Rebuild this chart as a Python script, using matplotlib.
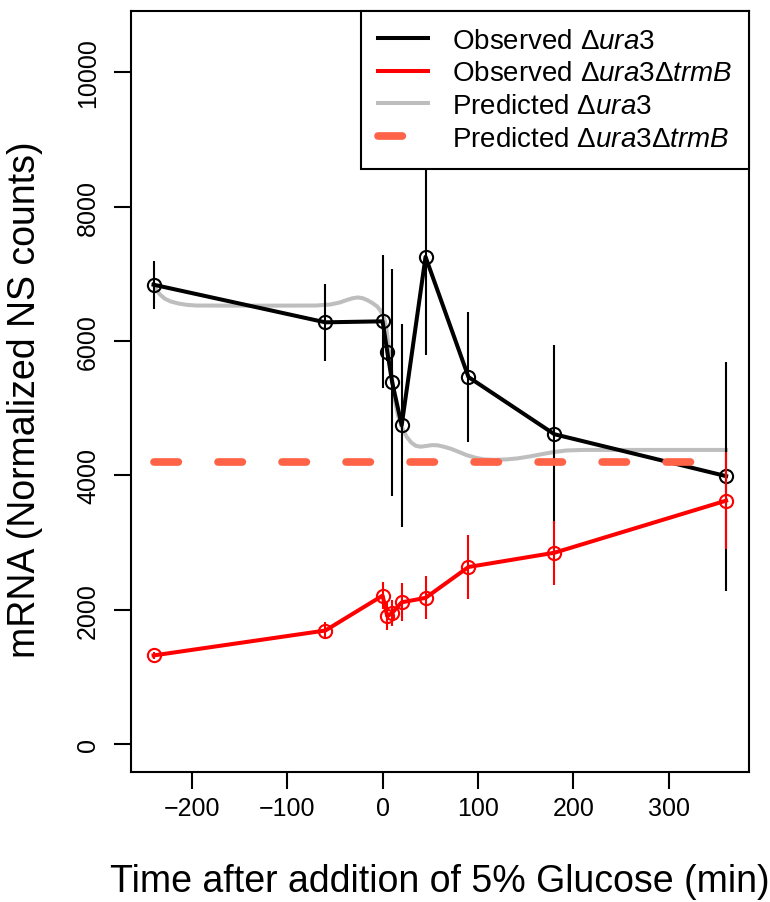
import matplotlib
matplotlib.use("Agg")
import matplotlib.pyplot as plt

plt.rcParams["font.family"] = ["Liberation Sans", "DejaVu Sans"]
plt.rcParams["mathtext.fontset"] = "custom"
plt.rcParams["mathtext.rm"] = "Liberation Sans"
plt.rcParams["mathtext.it"] = "Liberation Sans:italic"

# time points (min after glucose)
times = [-240, -60, 0, 5, 10, 20, 45, 90, 180, 360]

# observed ura3
obs_ura3 = [6840, 6280, 6295, 5835, 5390, 4748, 7255, 5465, 4614, 3990]
obs_ura3_err = [358, 574, 987, 129, 1691, 1513, 1464, 964, 1335, 1706]

# observed ura3 trmB
obs_trmb = [1320, 1691, 2211, 1903, 1954, 2111, 2177, 2637, 2849, 3625]
obs_trmb_err = [50, 120, 200, 210, 190, 285, 320, 482, 480, 717]

# predicted ura3
pred_t = [-240, -237, -233, -228, -222, -214, -205, -195, -136, -70, -55, -45,
          -37, -31, -26, -21, -16, -11, -6, -3, 0, 2, 4, 6, 8, 10, 13, 16, 20,
          25, 30, 35, 40, 46, 52, 58, 65, 72, 80, 88, 97, 106, 118, 130, 142,
          155, 168, 180, 193, 210, 250, 360]
pred_ura3 = [6850, 6760, 6690, 6630, 6590, 6560, 6540, 6530, 6528, 6530, 6545,
             6575, 6615, 6640, 6650, 6640, 6610, 6570, 6520, 6470, 6400, 6320,
             6180, 5950, 5680, 5430, 5110, 4900, 4723, 4580, 4490, 4440, 4428,
             4440, 4452, 4448, 4425, 4395, 4350, 4303, 4265, 4240, 4232, 4239,
             4255, 4285, 4320, 4350, 4372, 4380, 4380, 4380]

# predicted ura3 trmB (constant)
pred_trmb_t = [-240, 360]
pred_trmb = [4200, 4200]

W, H = 770, 903
fig = plt.figure(figsize=(W / 100, H / 100), dpi=100)
ax = fig.add_axes([130.7 / W, (H - 773.3) / H, (749 - 130.7) / W, (773.3 - 11.7) / H])

lw_main = 2.9
ax.plot(pred_t, pred_ura3, color="#BEBEBE", lw=lw_main, zorder=2,
        solid_joinstyle="round", label=r"Predicted $\Delta\mathit{ura}$3")
ax.plot(times, obs_ura3, color="black", lw=lw_main, zorder=3,
        label=r"Observed $\Delta\mathit{ura}$3")
ax.plot(times, obs_ura3, ls="none", marker="o", ms=9.5, mfc="none",
        mec="black", mew=1.5, zorder=3)
ax.vlines(times, [v - e for v, e in zip(obs_ura3, obs_ura3_err)],
          [v + e for v, e in zip(obs_ura3, obs_ura3_err)],
          color="black", lw=1.5, zorder=3)

ax.plot(times, obs_trmb, color="red", lw=lw_main, zorder=4,
        label=r"Observed $\Delta\mathit{ura}$3$\Delta\mathit{trmB}$")
ax.plot(times, obs_trmb, ls="none", marker="o", ms=9.5, mfc="none",
        mec="red", mew=1.5, zorder=4)
ax.vlines(times, [v - e for v, e in zip(obs_trmb, obs_trmb_err)],
          [v + e for v, e in zip(obs_trmb, obs_trmb_err)],
          color="red", lw=1.5, zorder=4)

ax.plot(pred_trmb_t, pred_trmb, color="#FF6347", lw=5.54,
        dashes=(3.16, 5.16), dash_capstyle="round", zorder=5,
        label=r"Predicted $\Delta\mathit{ura}$3$\Delta\mathit{trmB}$")

ax.set_xlim(-264, 384)
ax.set_ylim(-420, 10920)
ax.set_xticks([-200, -100, 0, 100, 200, 300])
ax.set_yticks([0, 2000, 4000, 6000, 8000, 10000])
ax.set_xticklabels(["\u2212200", "\u2212100", "0", "100", "200", "300"])
ax.tick_params(axis="both", length=12, width=1.5, labelsize=18, direction="out")
ax.tick_params(axis="x", pad=5)
ax.tick_params(axis="y", pad=10)
for lab in ax.get_yticklabels():
    lab.set_rotation(90)
    lab.set_va("center")
for sp in ax.spines.values():
    sp.set_linewidth(1.5)

ax.set_xlabel("Time after addition of 5% Glucose (min)", fontsize=27, labelpad=31)
ax.set_ylabel("mRNA (Normalized NS counts)", fontsize=27, labelpad=24)
ax.yaxis.label.set_y(0.49)

h, l = ax.get_legend_handles_labels()
order = [1, 2, 0, 3]
leg = ax.legend([h[i] for i in order], [l[i] for i in order], loc="upper right",
                bbox_to_anchor=(1, 1), borderaxespad=0, fontsize=20,
                handlelength=1.8, handletextpad=0.86, borderpad=0.61,
                labelspacing=0.24, fancybox=False, framealpha=1,
                edgecolor="black")
leg.get_frame().set_linewidth(1.5)

fig.savefig("out.png", dpi=100)
